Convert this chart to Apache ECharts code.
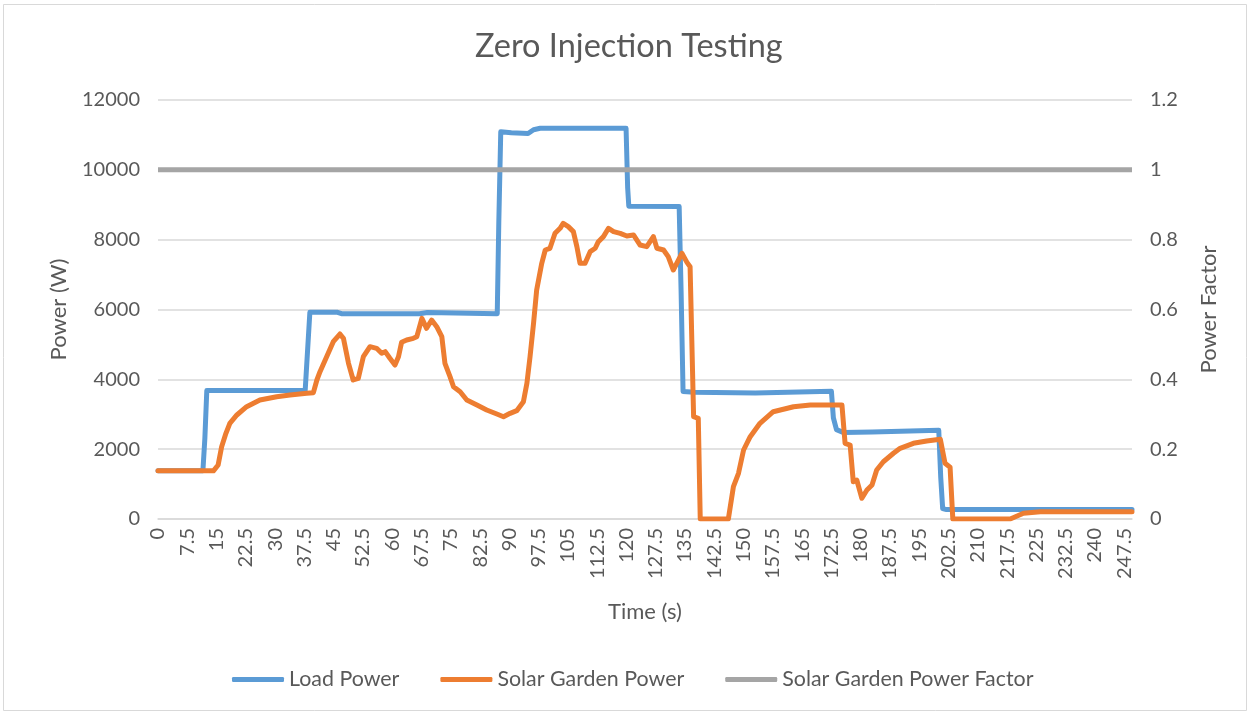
<!DOCTYPE html>
<html lang="en">
  <head>
    <meta charset="UTF-8" />
    <title>Zero Injection Testing</title>
    <style>
      html, body { margin: 0; padding: 0; background: #fff; }
      #main { width: 1251px; height: 715px; }
    </style>
  </head>
  <body>
    <div id="main"></div>
    <script src="https://cdn.jsdelivr.net/npm/echarts@6/dist/echarts.min.js"></script>
    <script>
      // time (s) and power readings
      var loadTimes = [0, 11.5, 12, 12.5, 37.7, 38.9, 46, 47, 67, 67.5, 69, 69.5, 86.9, 87.3, 87.8, 90.5, 91, 94.8, 96.2, 97.9,
        119.9, 120.3, 120.6, 133.5, 134, 134.5, 137.5, 138, 153, 153.5, 172.5, 173, 173.8, 175.5, 183, 183.5, 200, 200.5, 201, 202, 249.5];
      var loadPower = [1380, 1380, 2300, 3680, 3680, 5920, 5920, 5880, 5880, 5915, 5915, 5880, 5880, 8500, 11090, 11060, 11040, 11040, 11150, 11190,
        11190, 9500, 8960, 8950, 6500, 3650, 3630, 3600, 3610, 3660, 3660, 2900, 2560, 2480, 2490, 2540, 2540, 1200, 300, 270, 270];

      var solarTimes = [0, 14.2, 15.4, 16.3, 17.4, 18.4, 20.2, 22.7, 26.1, 30.4, 33.8, 38.1, 39.8, 40.7, 41.5, 43.2, 44.9, 46.6, 47.5, 48.8,
        50, 51.3, 52.6, 54.3, 56, 57.3, 58.2, 59.4, 60.7, 61.6, 62.4, 63.7, 65.4, 66.3, 67.6, 68.8, 70.1, 71.4, 72.7, 73.5,
        74.8, 75.7, 77.4, 79.1, 81.7, 84.2, 86.8, 88.5, 90.2, 91.9, 93.6, 94.5, 95.3, 96.2, 97, 98.3, 99.2, 100.4, 101.7, 103,
        103.8, 105.1, 106.4, 107.3, 108.1, 109.4, 110.7, 112, 112.8, 114.1, 115.4, 116.7, 118.4, 120.1, 121.8, 123.5, 125.2, 126.9, 127.8, 129.5,
        130.7, 132, 134.2, 135.5, 136.3, 137.2, 138.4, 138.9, 146.1, 147.4, 148.7, 150, 151.7, 154.2, 157.6, 162.8, 167.1, 175.2, 176, 177.3,
        178.1, 179, 180.3, 181.6, 182.9, 184.1, 185.8, 188.4, 190.1, 193.5, 196.9, 200.4, 201.6, 202.9, 203.6, 218.3, 221.7, 226, 249.5];
      var solarPower = [1380, 1380, 1547, 2071, 2454, 2741, 2979, 3216, 3408, 3503, 3551, 3600, 3617, 3981, 4219, 4648, 5078, 5298, 5175, 4459,
        3981, 4029, 4648, 4935, 4888, 4745, 4792, 4602, 4411, 4648, 5060, 5126, 5175, 5222, 5747, 5461, 5699, 5508, 5222, 4459,
        4077, 3789, 3646, 3408, 3265, 3122, 3007, 2930, 3027, 3102, 3360, 3886, 4648, 5604, 6559, 7323, 7704, 7753, 8182, 8325,
        8469, 8373, 8230, 7800, 7323, 7323, 7656, 7753, 7943, 8087, 8325, 8230, 8182, 8105, 8134, 7847, 7800, 8087, 7753, 7704,
        7513, 7131, 7609, 7350, 7226, 2930, 2884, 0, 0, 925, 1309, 1976, 2357, 2741, 3073, 3216, 3265, 3265, 2168, 2119,
        1068, 1117, 593, 831, 974, 1403, 1641, 1882, 2025, 2168, 2234, 2283, 1595, 1481, 0, 0, 163, 210, 210];

      var pfTimes = [0, 249.5];
      var pfValues = [1, 1];

      function pairs(xs, ys) {
        var out = [];
        for (var i = 0; i < xs.length; i++) out.push([xs[i], ys[i]]);
        return out;
      }

      var font = 'Lato, "Open Sans", sans-serif';
      var txt = '#595959';
      var grid = '#d9d9d9';

      var myChart = echarts.init(document.getElementById('main'));
      var option = {
        animation: false,
        backgroundColor: '#fff',
        textStyle: { fontFamily: font, color: txt },
        title: {
          text: 'Zero Injection Testing',
          left: 470,
          top: 25,
          textStyle: { fontFamily: font, fontSize: 32.5, fontWeight: 'normal', color: txt }
        },
        graphic: [{
          type: 'rect',
          shape: { x: 3.5, y: 4.5, width: 1243, height: 706 },
          style: { fill: 'none', stroke: grid, lineWidth: 1 },
          silent: true
        }],
        legend: {
          bottom: 20,
          left: 227,
          icon: 'roundRect',
          itemWidth: 52,
          itemHeight: 5,
          itemGap: 41,
          textStyle: { fontFamily: font, fontSize: 21.4, color: txt },
          data: ['Load Power', 'Solar Garden Power', 'Solar Garden Power Factor']
        },
        grid: { left: 158, right: 119, top: 100, bottom: 196 },
        xAxis: {
          type: 'value',
          min: 0,
          max: 249.5,
          interval: 7.5,
          name: 'Time (s)',
          nameLocation: 'middle',
          nameGap: 82,
          nameTextStyle: { fontFamily: font, fontSize: 22, color: txt },
          axisLine: { show: true, lineStyle: { color: grid, width: 1.5 } },
          axisTick: { show: false },
          splitLine: { show: false },
          axisLabel: { rotate: 90, margin: 9, fontSize: 20, color: txt, showMaxLabel: false, fontFamily: font }
        },
        yAxis: [{
          type: 'value',
          min: 0,
          max: 12000,
          interval: 2000,
          name: 'Power (W)',
          nameLocation: 'middle',
          nameGap: 88,
          nameTextStyle: { fontFamily: font, fontSize: 22, color: txt },
          axisLine: { show: false },
          axisTick: { show: false },
          splitLine: { lineStyle: { color: grid, width: 1.5 } },
          axisLabel: { margin: 18, fontSize: 20, color: txt, fontFamily: font, formatter: function (v) { return String(v); } }
        }, {
          type: 'value',
          min: 0,
          max: 1.2,
          interval: 0.2,
          name: 'Power Factor',
          nameLocation: 'middle',
          nameGap: 66,
          nameTextStyle: { fontFamily: font, fontSize: 22, color: txt },
          axisLine: { show: false },
          axisTick: { show: false },
          splitLine: { show: false },
          axisLabel: { margin: 18, fontSize: 20, color: txt, fontFamily: font }
        }],
        series: [{
          name: 'Load Power',
          type: 'line',
          showSymbol: false,
          color: '#5B9BD5',
          lineStyle: { width: 5, cap: 'round', join: 'round' },
          data: pairs(loadTimes, loadPower)
        }, {
          name: 'Solar Garden Power',
          type: 'line',
          showSymbol: false,
          color: '#ED7D31',
          lineStyle: { width: 5, cap: 'round', join: 'round' },
          data: pairs(solarTimes, solarPower)
        }, {
          name: 'Solar Garden Power Factor',
          type: 'line',
          yAxisIndex: 1,
          showSymbol: false,
          color: '#A5A5A5',
          lineStyle: { width: 5 },
          data: pairs(pfTimes, pfValues)
        }]
      };
      myChart.setOption(option);
    </script>
  </body>
</html>
